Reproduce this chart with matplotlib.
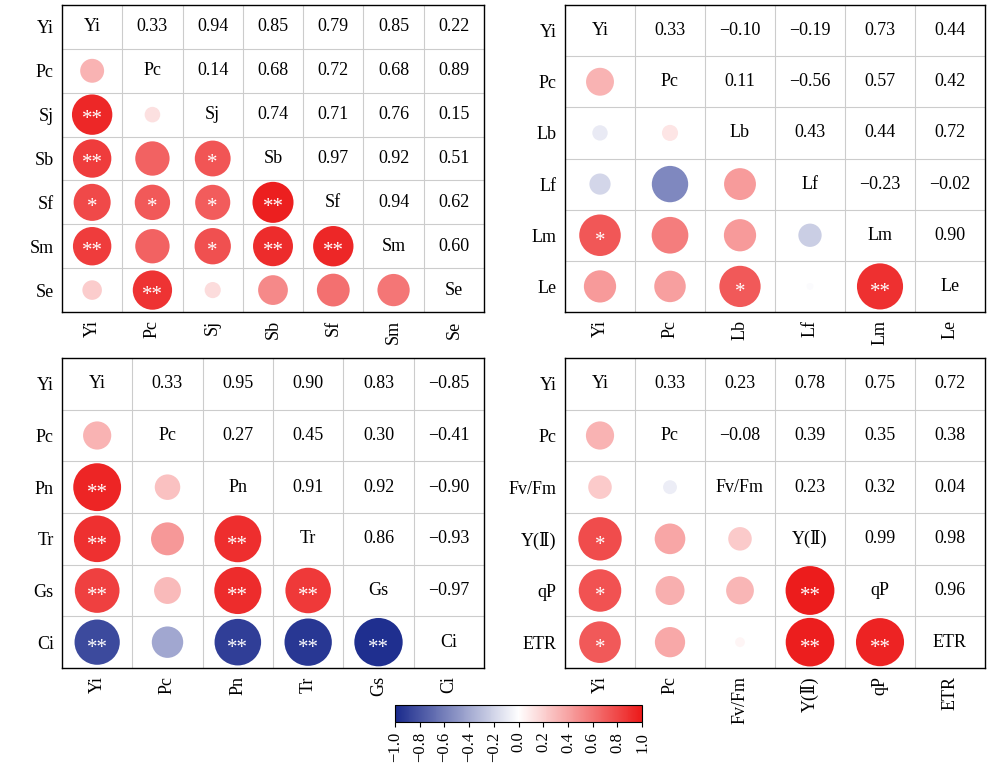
import matplotlib
matplotlib.use("Agg")
import matplotlib.pyplot as plt
import numpy as np
from matplotlib.colors import LinearSegmentedColormap, Normalize
from matplotlib.cm import ScalarMappable

plt.rcParams['font.family'] = ['Liberation Serif', 'DejaVu Serif']

labels1 = ["Yi", "Pc", "Sj", "Sb", "Sf", "Sm", "Se"]
upper1 = [[0.33, 0.94, 0.85, 0.79, 0.85, 0.22],
          [0.14, 0.68, 0.72, 0.68, 0.89],
          [0.74, 0.71, 0.76, 0.15],
          [0.97, 0.92, 0.51],
          [0.94, 0.62],
          [0.60]]
stars1 = {(2, 0): "**", (3, 0): "**", (3, 2): "*", (4, 0): "*", (4, 1): "*", (4, 2): "*",
          (4, 3): "**", (5, 0): "**", (5, 2): "*", (5, 3): "**", (5, 4): "**", (6, 1): "**"}

labels2 = ["Yi", "Pc", "Lb", "Lf", "Lm", "Le"]
upper2 = [[0.33, -0.10, -0.19, 0.73, 0.44],
          [0.11, -0.56, 0.57, 0.42],
          [0.43, 0.44, 0.72],
          [-0.23, -0.02],
          [0.90]]
stars2 = {(4, 0): "*", (5, 2): "*", (5, 4): "**"}

labels3 = ["Yi", "Pc", "Pn", "Tr", "Gs", "Ci"]
upper3 = [[0.33, 0.95, 0.90, 0.83, -0.85],
          [0.27, 0.45, 0.30, -0.41],
          [0.91, 0.92, -0.90],
          [0.86, -0.93],
          [-0.97]]
stars3 = {(2, 0): "**", (3, 0): "**", (3, 2): "**", (4, 0): "**", (4, 2): "**", (4, 3): "**",
          (5, 0): "**", (5, 2): "**", (5, 3): "**", (5, 4): "**"}

labels4 = ["Yi", "Pc", "Fv/Fm", "Y(Ⅱ)", "qP", "ETR"]
upper4 = [[0.33, 0.23, 0.78, 0.75, 0.72],
          [-0.08, 0.39, 0.35, 0.38],
          [0.23, 0.32, 0.04],
          [0.99, 0.98],
          [0.96]]
stars4 = {(3, 0): "*", (4, 0): "*", (4, 3): "**", (5, 0): "*", (5, 3): "**", (5, 4): "**"}

cmap = LinearSegmentedColormap.from_list("c", ["#1a2a8c", "#ffffff", "#ec1a1a"])
norm = Normalize(-1, 1)

W, H = 1000, 773
fig = plt.figure(figsize=(10, 7.73), dpi=100)

def panel(rect_px, labels, upper, stars):
    x0, y0, x1, y1 = rect_px
    ax = fig.add_axes([x0 / W, 1 - y1 / H, (x1 - x0) / W, (y1 - y0) / H])
    n = len(labels)
    M = np.eye(n)
    for i, row in enumerate(upper):
        for k, v in enumerate(row):
            j = i + 1 + k
            M[i, j] = M[j, i] = v
    ax.set_xlim(0, n); ax.set_ylim(n, 0)
    for t in range(1, n):
        ax.axhline(t, color="#cccccc", lw=0.8)
        ax.axvline(t, color="#cccccc", lw=0.8)
    cellh = (y1 - y0) / n
    for i in range(n):
        for j in range(n):
            if i == j:
                ax.text(j + 0.5, i + 0.5, labels[i], ha="center", va="center", fontsize=13)
            elif j > i:
                ax.text(j + 0.5, i + 0.5, f"{M[i, j]:.2f}".replace("-", "−"),
                        ha="center", va="center", fontsize=13)
            else:
                v = M[i, j]
                rpx = np.sqrt(abs(v)) * 0.5 * cellh * 0.95
                rpt = rpx * 72 / 100
                ax.scatter(j + 0.5, i + 0.5, s=(2 * rpt) ** 2, color=cmap(norm(v)),
                           edgecolors="none", zorder=3)
                if (i, j) in stars:
                    ax.text(j + 0.5, i + 0.62, stars[(i, j)], ha="center", va="center",
                            color="white", fontsize=15, zorder=4)
    ax.set_xticks(np.arange(n) + 0.5)
    ax.set_xticklabels(labels, rotation=90, fontsize=13)
    ax.set_yticks(np.arange(n) + 0.5)
    ax.set_yticklabels(labels, fontsize=13)
    ax.tick_params(length=0, pad=6)
    for s in ax.spines.values():
        s.set_linewidth(1.0)
    return ax

panel((62, 5, 484, 312), labels1, upper1, stars1)
panel((565, 5, 985, 312), labels2, upper2, stars2)
panel((62, 358, 484, 668), labels3, upper3, stars3)
panel((565, 358, 985, 668), labels4, upper4, stars4)

ticks = np.round(np.arange(-1, 1.01, 0.2), 1)
cax = fig.add_axes([395 / W, 1 - 722 / H, 247 / W, 17 / H])
cb = fig.colorbar(ScalarMappable(norm=norm, cmap=cmap), cax=cax, orientation="horizontal",
                  ticks=ticks)
cb.ax.set_xticklabels([f"{t + 0.0:.1f}".replace("-0.0", "0.0").replace("-", "−") for t in ticks],
                      rotation=90, fontsize=12)
cb.outline.set_linewidth(0.8)

fig.savefig("out.png", dpi=100)
